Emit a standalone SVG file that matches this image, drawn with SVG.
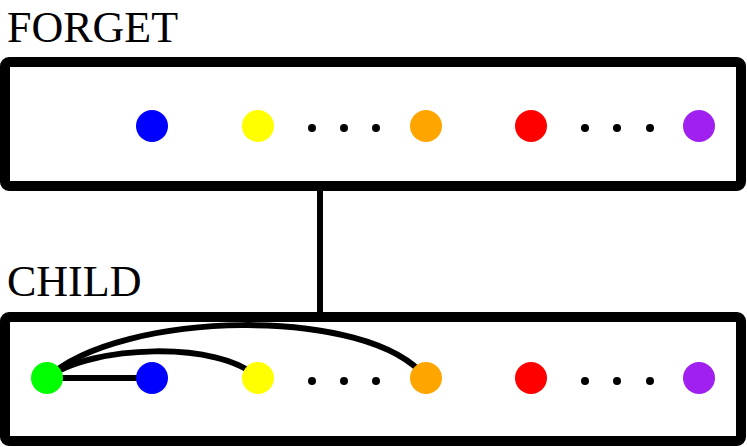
<svg xmlns="http://www.w3.org/2000/svg" width="747" height="447" viewBox="0 0 747 447">
<style>
.box{fill:#fff;stroke:#000;stroke-width:10}
.lbl{font-family:"Liberation Serif",serif;font-size:44px;fill:#000}
.e{fill:none;stroke:#000;stroke-width:6}
.d{fill:#000}
</style>
<rect width="747" height="447" fill="#fff"/>
<g id="connectors">
<line class="e" x1="320" y1="186" x2="320" y2="317"/>
</g>
<g id="forget">
<text class="lbl" x="7" y="42">FORGET</text>
<rect class="box" x="5" y="62" width="736" height="124" rx="4"/>
<circle cx="152" cy="126" r="16" fill="#0000ff"/>
<circle cx="258" cy="126" r="16" fill="#ffff00"/>
<circle class="d" cx="312" cy="128" r="4"/><circle class="d" cx="344" cy="128" r="4"/><circle class="d" cx="376" cy="128" r="4"/>
<circle cx="426" cy="126" r="16" fill="#ffa500"/>
<circle cx="531" cy="126" r="16" fill="#ff0000"/>
<circle class="d" cx="585" cy="128" r="4"/><circle class="d" cx="617" cy="128" r="4"/><circle class="d" cx="650" cy="128" r="4"/>
<circle cx="699" cy="126" r="16" fill="#a020f0"/>
</g>
<g id="child">
<text class="lbl" x="7" y="296">CHILD</text>
<rect class="box" x="5" y="317" width="736" height="124" rx="4"/>
<g id="child-edges">
<line class="e" x1="47" y1="378" x2="152" y2="378"/>
<path class="e" d="M47,378 C90,345 220,340 258,378"/>
<path class="e" d="M47,378 C120,310 370,305 426,378"/>
</g>
<circle cx="47" cy="378" r="16" fill="#00ff00"/>
<circle cx="152" cy="378" r="16" fill="#0000ff"/>
<circle cx="258" cy="378" r="16" fill="#ffff00"/>
<circle class="d" cx="312" cy="381" r="4"/><circle class="d" cx="344" cy="381" r="4"/><circle class="d" cx="376" cy="381" r="4"/>
<circle cx="426" cy="378" r="16" fill="#ffa500"/>
<circle cx="531" cy="378" r="16" fill="#ff0000"/>
<circle class="d" cx="585" cy="381" r="4"/><circle class="d" cx="617" cy="381" r="4"/><circle class="d" cx="650" cy="381" r="4"/>
<circle cx="699" cy="378" r="16" fill="#a020f0"/>
</g>
</svg>
